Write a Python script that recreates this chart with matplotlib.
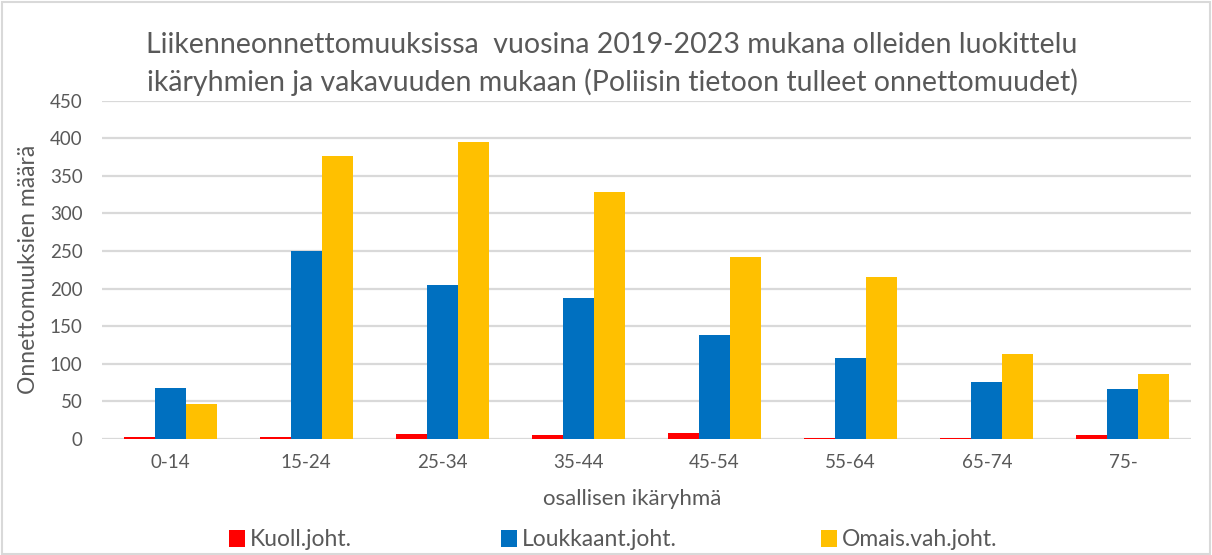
import matplotlib
matplotlib.use("Agg")
import matplotlib.pyplot as plt
import numpy as np
from matplotlib.patches import Rectangle, Patch

plt.rcParams['font.family'] = ['Lato', 'DejaVu Sans']

categories = ["0-14", "15-24", "25-34", "35-44", "45-54", "55-64", "65-74", "75-"]
kuoll = [3, 3, 7, 5, 8, 1, 1, 5]
loukkaant = [68, 250, 205, 187, 139, 108, 76, 67]
omais = [47, 376, 395, 329, 242, 215, 113, 86]
series_names = ["Kuoll.joht.", "Loukkaant.joht.", "Omais.vah.joht."]
colors = ["#FF0000", "#0070C0", "#FFC000"]
yticks = [0, 50, 100, 150, 200, 250, 300, 350, 400, 450]

title = ("Liikenneonnettomuuksissa  vuosina 2019-2023 mukana olleiden luokittelu\n"
         "ikäryhmien ja vakavuuden mukaan (Poliisin tietoon tulleet onnettomuudet)")
txt = "#595959"

W, H = 1212, 555
fig = plt.figure(figsize=(W / 100, H / 100), dpi=100)
ax = fig.add_axes([102 / W, 1 - 439 / H, (1191 - 102) / W, (439 - 100.7) / H])

x = np.arange(len(categories))
bw = 0.228
for i, (vals, c) in enumerate(zip([kuoll, loukkaant, omais], colors)):
    ax.bar(x + (i - 1) * bw, vals, width=bw, color=c, zorder=3)

ax.set_xlim(-0.5, len(categories) - 0.5)
ax.set_ylim(0, 450)
ax.set_yticks(yticks)
ax.set_xticks(x)
ax.set_xticklabels(categories)
ax.tick_params(axis='both', length=0, labelsize=13.5, colors=txt)
ax.tick_params(axis='x', pad=11)
ax.tick_params(axis='y', pad=14)
ax.grid(axis='y', color="#D9D9D9", linewidth=1.6, zorder=0)
for s in ax.spines.values():
    s.set_visible(False)

ax.set_ylabel("Onnettomuuksien määrä", fontsize=16.5, color=txt)
ax.yaxis.set_label_coords(-(102 - 29) / (1191 - 102), 0.5)
ax.yaxis.label.set_verticalalignment('center')

fig.text(612 / W, 1 - 64 / H, title, ha='center', va='center', fontsize=20.5,
         color=txt, linespacing=1.42)
fig.text(632 / W, 1 - 499 / H, "osallisen ikäryhmä", ha='center', va='center',
         fontsize=16, color=txt)

# legend entries placed individually
legend_x = [229, 501, 821]
for name, c, lx in zip(series_names, colors, legend_x):
    lg = fig.legend([Patch(facecolor=c, edgecolor='none')], [name], loc='center left',
                    bbox_to_anchor=(lx / W, 1 - 540 / H), frameon=False, fontsize=16.5,
                    labelcolor=txt, handlelength=0.7, handleheight=0.7, handletextpad=0.2,
                    borderpad=0, borderaxespad=0)

fig.add_artist(Rectangle((2 / W, 1 / H), (W - 4) / W, (H - 3) / H, transform=fig.transFigure,
                         fill=False, edgecolor="#D9D9D9", linewidth=1.5))

fig.savefig("out.png", dpi=100, facecolor="white")
